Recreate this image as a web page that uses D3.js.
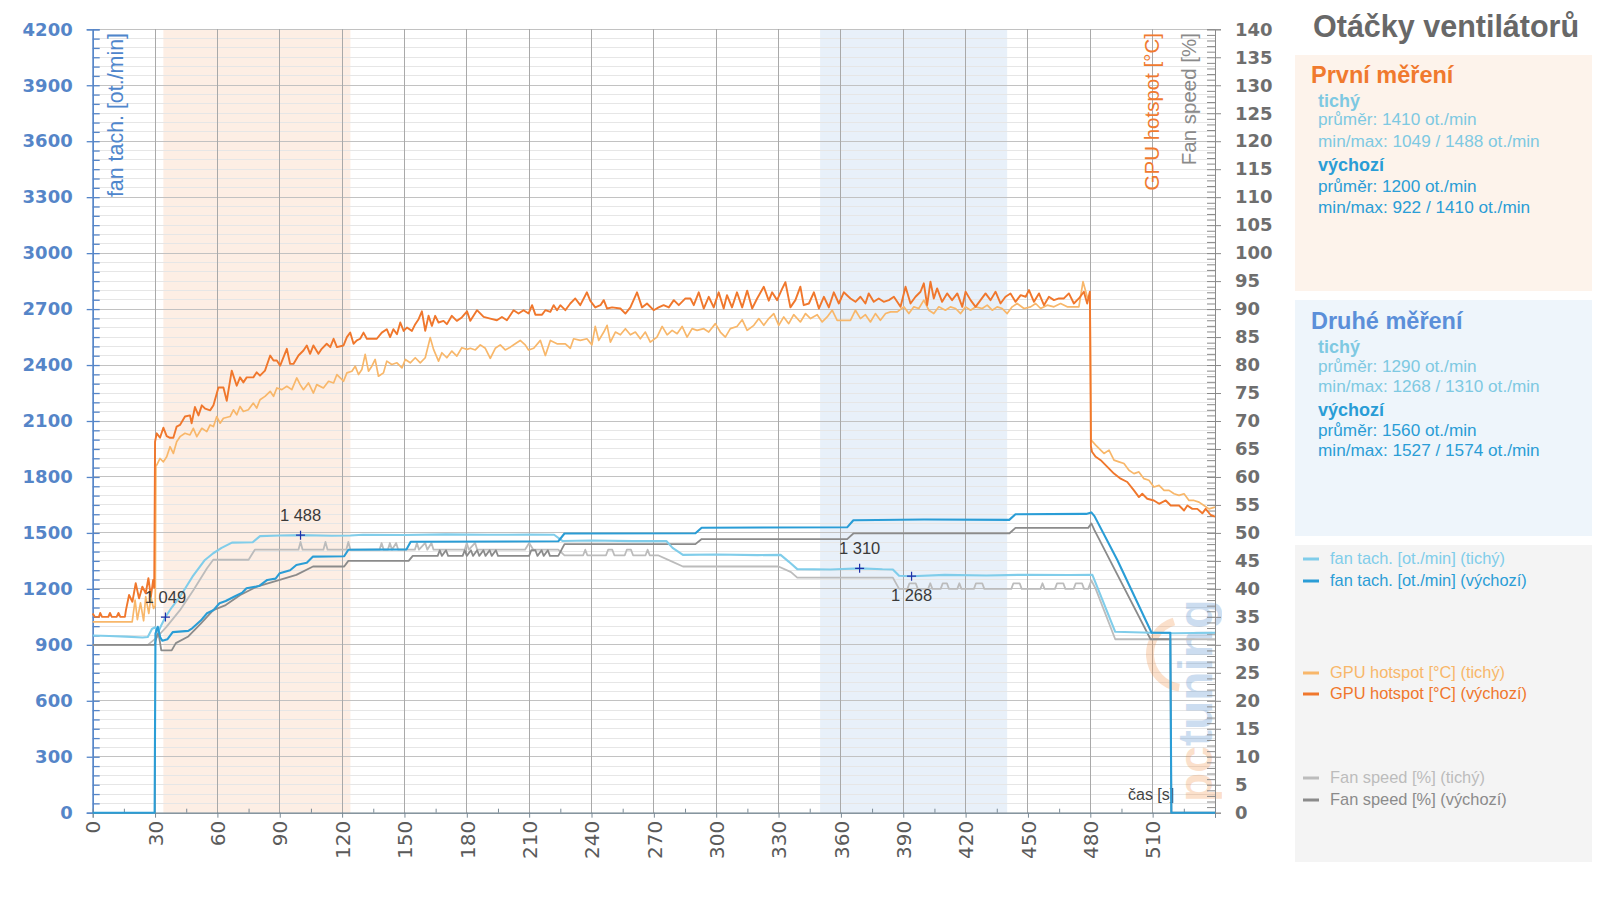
<!DOCTYPE html>
<html>
<head>
<meta charset="utf-8">
<script src="https://cdn.jsdelivr.net/npm/d3@7"></script>
<style>
    body { margin: 0; background: #fff; }
    svg { display: block; }
</style>
</head>
<body>
<svg id="chart" width="1600" height="898"></svg>
<script>
const xTicks = d3.range(0, 511, 30);
const rpmTicks = d3.range(0, 4201, 300);
const pctTicks = d3.range(0, 141, 5);

// [čas s, ot./min]
const tachTichy = [[0,950],[8,947],[16,944],[24,939],[26.5,942],[28.5,985],[30,995],[31.5,968],[33,1005],[35,1049],[38,1100],[42,1158],[48,1265],[54,1355],[58,1391],[62,1420],[67,1448],[77,1450],[80.5,1483],[90,1486],[100,1488],[115,1485],[124,1486],[130,1490],[150,1489],[170,1492],[190,1490],[210,1491],[222,1490],[226,1457],[240,1459],[260,1456],[276,1457],[279,1420],[284,1382],[300,1384],[320,1381],[331,1382],[335,1345],[339,1306],[355,1304],[369,1310],[380,1305],[385,1304],[388,1270],[394,1268],[410,1275],[430,1272],[450,1276],[470,1274],[481,1275],[492,970],[505,966],[520,962],[540,965]];
const tachVychozi = [[0,0],[29.8,0],[30.2,960],[31.3,997],[32.5,940],[33.5,922],[36,930],[38.5,968],[46,975],[48,990],[52,1030],[55,1069],[58,1085],[61,1123],[64,1135],[68,1158],[72,1180],[74,1203],[80,1215],[84,1248],[88,1255],[90,1284],[95,1300],[98,1328],[103,1340],[106,1373],[121,1375],[123,1410],[151,1412],[153,1453],[224,1455],[227,1497],[290,1498],[293,1528],[363,1530],[366,1568],[400,1572],[441,1570],[444,1600],[478,1602],[480.5,1610],[482,1590],[493,1355],[509.5,965],[518.5,965],[519,0],[540,0]];

// [čas s, %]
const speedTichy = [[0,30],[26.5,30],[30.5,31.2],[35.5,33.2],[42,36.2],[48.5,39.8],[55,43.7],[58,45.2],[75,45.2],[78,47],[99,47],[100,48.4],[101,47],[111,47],[112,48.4],[113,47],[122,47],[123,48.4],[124,47],[138,47],[139,48.2],[140,47],[142,47],[143,48.2],[144,47],[146,48.2],[147,47],[155,47],[156,48.2],[157,47],[160,48.2],[161,47],[163,48.2],[164,47],[179,47],[180,48.2],[181,47],[184,48.2],[185,47],[208,47],[210,48.2],[212,47],[224,47],[227,46],[236,46],[237,47],[238,46],[247,46],[248,47],[250,47],[251,46],[256,46],[257,47],[259,47],[260,46],[266,46],[267,47],[268,46],[272,46],[278,45],[284,44],[330,44],[336,43],[339,42],[385,42],[388,40],[392,40],[393,41],[396,41],[397,40],[402,40],[403,41],[404,40],[408,40],[409,41],[411,41],[412,40],[416,40],[417,41],[418,40],[424,40],[425,41],[428,41],[429,40],[442,40],[443,41],[446,41],[447,40],[456,40],[457,41],[458,40],[463,40],[464,41],[467,41],[468,40],[472,40],[473,41],[476,41],[477,40],[479,40],[480.5,41.5],[482.6,40],[492,31],[540,31]];
const speedVychozi = [[0,30],[29.8,30],[31.5,32.5],[33,29],[38,29],[40,30.3],[46,31.5],[52,33.8],[58,36.2],[64,37.1],[71,38.9],[79,40.4],[90,41.6],[98,42.5],[106,44],[121,44],[123,45],[152,45],[154,45.9],[166,45.9],[167,46.9],[168,45.9],[170,46.9],[171,45.9],[178,45.9],[179,46.9],[180,45.9],[182,46.9],[183,45.9],[185,46.9],[186,45.9],[188,46.9],[189,45.9],[191,46.9],[192,45.9],[194,46.9],[195,45.9],[210,45.9],[211,46.9],[213,46.9],[214,45.9],[216,46.9],[217,45.9],[219,46.9],[220,45.9],[224,45.9],[227,48],[290,48],[293,48.9],[363,48.9],[366,49.9],[441,49.9],[444,50.9],[479,50.9],[480.5,51.7],[482,50.5],[509,31],[518.5,31],[519,0],[540,0]];

// [čas s, °C]
const hotTichy = [[0,34.1],[19,34.1],[20.4,38.0],[21.5,34.5],[23,37.5],[24.5,34.3],[25.5,38.6],[27,35.6],[28,38.5],[29.3,36.5],[30.1,37.0],[30.4,62.1],[30.8,62.1],[32.4,63.3],[34,62.7],[35.6,63.6],[37.2,65.4],[38.8,64.2],[40.4,66.3],[42,67.2],[44.4,67.8],[46.8,67.5],[48.4,68.7],[50.1,67.2],[52.5,68.7],[54.9,68.1],[56.5,69.3],[58.1,69.0],[59.7,70.8],[61.3,69.6],[62.9,70.5],[66.1,70.8],[67.7,72.0],[69.3,71.1],[70.9,72.6],[72.5,71.7],[74.9,72.0],[77.3,73.2],[78.9,72.3],[80.5,73.8],[82.9,74.4],[85.4,75.3],[87,74.4],[88.6,75.9],[91,75.6],[93.4,76.2],[95.8,75.6],[98.2,77.7],[99.8,76.5],[101.4,75.6],[103.8,76.8],[106.2,75.0],[107.8,76.5],[111,75.9],[113.5,77.1],[115.9,76.8],[117.5,78.3],[119.1,77.7],[120.7,77.1],[122.3,78.6],[124.7,78.9],[126.3,79.8],[127.9,78.3],[129.5,79.2],[131.1,81.9],[132.7,78.9],[134.3,79.8],[135.9,81.0],[137.5,78.0],[139.9,78.6],[141.5,80.7],[143.9,80.1],[146.4,80.4],[148.8,79.5],[150.4,81.0],[152.8,80.4],[155.2,81.3],[157.6,80.4],[160,81.3],[162.4,84.9],[164,82.8],[166.4,80.7],[168,82.2],[170.4,81.3],[172.8,82.5],[175.2,81.6],[177.6,83.1],[180.1,82.8],[181.7,83.0],[184.1,82.7],[186.5,83.6],[188.9,83.0],[191.3,81.2],[193.7,83.0],[196.1,83.6],[198.5,82.7],[200.9,83.2],[203.3,83.8],[205.7,84.4],[208.1,83.6],[209.7,82.7],[212.2,83.0],[215.4,84.4],[217.8,81.7],[220.2,84.4],[223.4,83.8],[227.4,83.8],[229.8,83.0],[231.4,84.7],[234.6,84.4],[237.8,84.7],[240.2,83.6],[241.8,86.9],[243.5,84.4],[245.9,85.9],[247.5,87.1],[249.1,84.1],[251.5,85.9],[253.9,85.4],[256.3,86.5],[258.7,85.4],[261.1,85.9],[263.5,84.7],[265.9,85.9],[268.3,84.1],[271.5,85.0],[274,86.9],[276.4,85.4],[278.8,86.2],[281.2,85.6],[283.6,86.9],[286,85.0],[288.4,86.5],[290.8,86.2],[294,86.5],[296.4,85.9],[299.6,87.4],[302,85.9],[304.4,85.0],[306.8,86.5],[310,86.9],[312.5,88.1],[314.9,86.2],[318.1,87.1],[320.5,88.3],[322.9,87.1],[325.3,88.3],[327.7,89.2],[330.1,87.1],[332.5,88.6],[334.9,87.4],[337.3,89.0],[340.5,87.7],[343,89.2],[345.4,88.3],[348.6,89.0],[351,87.7],[353.4,88.6],[355.8,89.8],[358.2,88.0],[361.4,88.0],[364.6,88.0],[367,89.8],[369.4,88.3],[371.8,89.0],[374.2,87.7],[376.6,89.2],[379,88.0],[381.5,89.2],[383.9,89.5],[387.1,89.5],[390.3,90.4],[392.7,89.2],[395.1,90.4],[397.5,90.1],[399.9,91.6],[402.3,89.8],[404.7,89.2],[407.1,90.4],[410.3,89.8],[412.7,90.4],[415.2,90.1],[417.6,89.2],[420,90.4],[422.4,89.8],[424.8,90.4],[428,90.1],[430.4,90.7],[432.8,89.8],[435.2,90.4],[437.6,90.1],[440,89.2],[442.4,90.4],[444.8,91.0],[448.1,90.1],[451.3,90.4],[453.7,91.0],[456.1,90.1],[459.3,90.7],[462.5,90.4],[465.7,91.0],[468.9,90.4],[472.1,90.4],[474.5,90.4],[476.5,94.9],[478.5,92.2],[479.9,91.5],[480.4,66.6],[482.6,65.7],[485,64.8],[486.6,64.2],[489,64.8],[491.4,63.0],[493.8,62.7],[496.2,62.4],[498.6,61.2],[501,60.6],[503.4,60.9],[505.8,59.7],[508.2,59.4],[510.6,58.2],[513.1,58.5],[515.5,57.6],[517.9,57.6],[520.3,57.0],[522.7,56.7],[525.1,57.0],[527.5,55.8],[529.9,55.8],[532.3,55.5],[534.7,54.9],[537.1,54.3],[540,54.6]];
const hotVychozi = [[0,35.6],[1,35.0],[3,35.0],[3.6,35.7],[4.5,35.0],[7.5,35.0],[8.3,35.7],[9.2,35.0],[11.5,35.0],[12.4,35.7],[13.3,35.0],[15.5,35.0],[16,36.2],[17.5,38.9],[19.1,37.7],[20.7,41.0],[22.3,38.3],[23.9,40.4],[25.5,39.2],[26.8,41.9],[28,38.6],[29.1,41.6],[29.6,40.2],[30,66.3],[30.8,67.8],[32.4,67.0],[34,68.8],[35.6,67.3],[37.2,67.0],[38.8,67.0],[40.4,69.0],[42,69.3],[44.4,70.8],[46.8,71.0],[47.6,69.6],[49.2,72.5],[50.9,71.0],[52.5,72.8],[54.1,72.2],[56.5,71.9],[58.1,72.8],[60.5,76.0],[62.9,76.0],[64.5,73.6],[66.9,79.0],[69.3,76.3],[70.9,77.8],[72.5,76.9],[74.1,77.8],[77.3,77.8],[78.9,78.7],[80.5,78.1],[82.9,79.0],[85.4,81.7],[87,80.8],[88.6,80.8],[90.2,79.9],[93.4,82.9],[95,80.2],[96.6,80.2],[99,81.7],[101.4,82.6],[103,83.5],[104.6,82.0],[106.2,83.5],[108.6,82.0],[110.2,82.9],[112.6,83.8],[114.3,83.2],[115.9,84.7],[117.5,83.2],[120.7,83.5],[122.3,85.0],[123.9,85.8],[125.5,83.8],[127.1,84.4],[128.7,84.7],[130.3,85.8],[131.9,84.7],[136.7,84.7],[139.1,85.8],[141.5,86.4],[143.1,85.0],[144.7,86.4],[146.4,85.5],[148,87.6],[149.6,86.1],[151.2,86.7],[153.6,86.1],[155.2,87.3],[156.8,88.2],[158.4,89.6],[160,86.1],[161.6,88.8],[163.2,87.0],[164.8,88.8],[166.4,87.6],[168.8,87.9],[170.4,87.3],[172.8,88.8],[175.2,87.9],[177.6,88.5],[180.1,89.6],[181.7,87.9],[184.9,89.8],[188.1,88.6],[191.3,88.3],[194.5,88.0],[196.9,88.6],[199.3,88.0],[202.5,89.8],[204.9,89.2],[207.3,89.8],[209.7,89.2],[211.4,90.7],[213,89.0],[216.2,89.0],[217.8,89.8],[220.2,89.5],[221.8,90.7],[223.4,89.8],[225,90.7],[227.4,89.8],[229.8,91.0],[232.2,91.9],[234.6,90.7],[237.8,93.0],[239.4,91.5],[241.8,90.3],[244.3,90.7],[245.9,91.6],[247.5,90.1],[249.9,90.3],[253.9,90.1],[256.3,89.2],[258.7,90.3],[261.9,93.0],[264.3,90.3],[266.7,91.0],[269.9,89.8],[272.3,90.3],[274.7,90.7],[277.2,90.3],[279.6,91.6],[282,90.7],[285.2,91.9],[287.6,91.9],[289.2,90.7],[291.6,93.0],[294,90.1],[296.4,92.2],[298.8,90.3],[301.2,93.0],[303.6,90.1],[305.2,92.5],[307.6,90.3],[310,93.0],[312.5,90.3],[314.9,93.3],[317.3,90.1],[319.7,91.9],[322.9,94.0],[325.3,91.5],[326.9,93.0],[329.3,91.6],[331.7,93.6],[333.3,94.8],[335.7,90.3],[338.1,91.6],[340.5,94.0],[342.1,90.7],[344.6,91.0],[347,93.0],[349.4,90.1],[351.8,92.2],[354.2,90.3],[356.6,93.0],[359,91.0],[361.4,93.0],[364.6,91.9],[367,91.3],[369.4,92.2],[371.8,91.0],[373.4,92.8],[375.8,91.3],[378.2,91.9],[380.6,91.3],[383.1,91.6],[385.5,92.2],[388.7,90.4],[391.1,94.0],[393.5,91.0],[395.9,92.2],[398.3,93.1],[399.9,94.6],[401.5,90.7],[403.1,94.9],[404.7,91.9],[406.3,93.7],[408.7,91.3],[411.1,92.8],[413.5,91.6],[416,92.8],[418.4,90.4],[420,93.1],[422.4,91.6],[424.8,90.4],[427.2,91.6],[429.6,92.8],[432,91.6],[434.4,93.1],[436.8,91.0],[439.2,92.2],[441.6,92.8],[444,91.3],[446.5,92.5],[448.9,92.2],[450.5,93.4],[452.9,91.3],[455.3,92.8],[457.7,90.7],[460.1,92.2],[462.5,91.6],[464.9,91.9],[467.3,91.9],[469.7,92.8],[472.1,91.0],[474.5,91.9],[476.9,93.1],[478.5,91.0],[479.8,93.1],[480.3,65.5],[480.8,64.5],[482.6,63.6],[485,63.0],[488.2,61.8],[491.4,60.6],[494.6,59.7],[497.8,59.1],[501,57.6],[503.4,56.4],[505,57.0],[507.4,56.1],[510.6,55.8],[513.1,55.2],[516.3,55.8],[518.7,54.9],[522.7,54.9],[525.1,54.0],[526.7,54.9],[529.1,54.3],[531.5,54.3],[533.9,53.5],[535.5,54.3],[537.9,53.2],[540,52.9]];

const bands = [[34, 124], [350, 440]];
const marks = [[35, 1049, "1 049"], [100, 1488, "1 488"], [369, 1310, "1 310"], [394, 1268, "1 268"]];

const title = "Otáčky ventilátorů";
const boxTitles = ["První měření", "Druhé měření"];
const boxRows = [
    ["tichý", "průměr: 1410 ot./min", "min/max: 1049 / 1488 ot./min", "výchozí", "průměr: 1200 ot./min", "min/max: 922 / 1410 ot./min"],
    ["tichý", "průměr: 1290 ot./min", "min/max: 1268 / 1310 ot./min", "výchozí", "průměr: 1560 ot./min", "min/max: 1527 / 1574 ot./min"]
];
const legendLabels = [
    "fan tach. [ot./min] (tichý)", "fan tach. [ot./min] (výchozí)",
    "GPU hotspot [°C] (tichý)", "GPU hotspot [°C] (výchozí)",
    "Fan speed [%] (tichý)", "Fan speed [%] (výchozí)"
];

const C = {
    tachT: "#80cdea", tachV: "#2a9dd6",
    hotT: "#f8b76a", hotV: "#f0772c",
    spdT: "#bcbcbc", spdV: "#8b8b8b",
    leftAxis: "#5585c8", rightAxis: "#6e6e6e"
};
const SANS = "'Liberation Sans', Arial, sans-serif";
const WIDE = "'DejaVu Sans', Verdana, sans-serif";

const svg = d3.select("#chart");
svg.append("rect").attr("width", 1600).attr("height", 898).attr("fill", "#fff");

const x = d3.scaleLinear().domain([0, 540]).range([92.7, 1215]);
const yL = d3.scaleLinear().domain([0, 4200]).range([812.7, 29.3]);
const yR = d3.scaleLinear().domain([0, 140]).range([812.7, 29.3]);

// pásma měření
svg.append("g").selectAll("rect").data(bands).join("rect")
    .attr("x", d => x(d[0]))
    .attr("width", d => x(d[1]) - x(d[0]))
    .attr("y", yL(4200))
    .attr("height", yL(0) - yL(4200))
    .attr("fill", (d, i) => i ? "#e8f0f9" : "#fdeee4");

// mřížka
const grid = svg.append("g").attr("shape-rendering", "crispEdges");
grid.selectAll(".minor").data(d3.range(0, 4201, 50).filter(v => v % 300)).join("line")
    .attr("x1", x(0)).attr("x2", x(540))
    .attr("y1", d => yL(d)).attr("y2", d => yL(d))
    .attr("stroke", "#e6e6e6");
grid.selectAll(".major").data(rpmTicks.slice(1)).join("line")
    .attr("x1", x(0)).attr("x2", x(540))
    .attr("y1", d => yL(d)).attr("y2", d => yL(d))
    .attr("stroke", "#c2c2c2");
grid.selectAll(".vert").data(d3.range(30, 540, 30)).join("line")
    .attr("x1", d => x(d)).attr("x2", d => x(d))
    .attr("y1", yL(0)).attr("y2", yL(4200))
    .attr("stroke", "#a9a9a9");

// vodoznak
const wm = svg.append("g").attr("opacity", 0.26);
wm.append("path")
    .attr("d", d3.arc()({ innerRadius: 30, outerRadius: 38, startAngle: -3.0, endAngle: -0.3 }))
    .attr("transform", "translate(1184,654)")
    .attr("fill", "#f08a3c");
const wmText = wm.append("text")
    .attr("transform", "translate(1212,802) rotate(-90)")
    .attr("font-family", SANS).attr("font-weight", "bold").attr("font-size", 48);
wmText.append("tspan").attr("fill", "#f08a3c").text("pc");
wmText.append("tspan").attr("fill", "#3f7fc6").text("tuning");

// osy
const axisL = svg.append("g").attr("class", "ax-left").attr("transform", `translate(${x(0)},0)`)
    .call(d3.axisLeft(yL).tickValues(rpmTicks).tickSize(6).tickPadding(14).tickFormat(d3.format("d")));
svg.append("g").attr("class", "ax-left").attr("transform", `translate(${x(0)},0)`)
    .call(d3.axisRight(yL).tickValues(d3.range(0, 4201, 50)).tickSize(7).tickFormat(""));
const axisR = svg.append("g").attr("class", "ax-right").attr("transform", `translate(${x(540)},0)`)
    .call(d3.axisRight(yR).tickValues(pctTicks).tickSize(6).tickPadding(14));
svg.append("g").attr("class", "ax-right").attr("transform", `translate(${x(540)},0)`)
    .call(d3.axisLeft(yR).tickValues(d3.range(0, 141, 1)).tickSize(8).tickFormat(""));
const axisB = svg.append("g").attr("class", "ax-bottom").attr("transform", `translate(0,${yL(0)})`)
    .call(d3.axisBottom(x).tickValues(d3.range(0, 541, 30)).tickSize(5)
        .tickFormat(d => xTicks.includes(d) ? d : ""));
svg.append("g").attr("class", "ax-bottom").attr("transform", `translate(0,${yL(0)})`)
    .call(d3.axisTop(x).tickValues(d3.range(15, 540, 30)).tickSize(4).tickFormat(""));

svg.selectAll(".ax-left").selectAll("path, line").attr("stroke", C.leftAxis).attr("stroke-width", 1.3);
svg.selectAll(".ax-right").selectAll("path, line").attr("stroke", "#8a8a8a");
svg.selectAll(".ax-bottom").selectAll("path, line").attr("stroke", "#7a8a96");

axisL.selectAll("text")
    .attr("font-family", WIDE).attr("font-weight", "bold").attr("font-size", 18)
    .attr("fill", C.leftAxis);
axisR.selectAll("text")
    .attr("font-family", WIDE).attr("font-weight", "bold").attr("font-size", 18)
    .attr("fill", C.rightAxis);
axisB.selectAll("text")
    .attr("font-family", WIDE).attr("font-size", 20).attr("fill", "#5a5a5a")
    .attr("transform", "rotate(-90)")
    .attr("text-anchor", "end")
    .attr("x", -8).attr("y", 0).attr("dy", "0.36em");

// názvy os
const axisTitle = (tx, ty, color, size, text) => svg.append("text")
    .attr("transform", `translate(${tx},${ty}) rotate(-90)`)
    .attr("text-anchor", "end")
    .attr("font-family", SANS).attr("font-size", size)
    .attr("fill", color)
    .text(text);
axisTitle(123, 33, "#4f86cc", 21.4, "fan tach. [ot./min]");
axisTitle(1159, 33, "#f07a30", 20.5, "GPU hotspot [°C]");
axisTitle(1196, 33, "#8a8a8a", 20.5, "Fan speed [%]");

svg.append("text")
    .attr("x", 1128).attr("y", 800)
    .attr("font-family", SANS).attr("font-size", 16).attr("fill", "#444")
    .text("čas [s]");

// křivky
const lineL = d3.line().x(d => x(d[0])).y(d => yL(d[1]));
const lineR = d3.line().x(d => x(d[0])).y(d => yR(d[1]));
const series = [
    [speedTichy, lineR, C.spdT, 1.8],
    [speedVychozi, lineR, C.spdV, 1.8],
    [tachTichy, lineL, C.tachT, 2.1],
    [tachVychozi, lineL, C.tachV, 2.1],
    [hotTichy, lineR, C.hotT, 1.7],
    [hotVychozi, lineR, C.hotV, 1.9]
];
svg.append("g").selectAll("path").data(series).join("path")
    .attr("d", d => d[1](d[0]))
    .attr("fill", "none")
    .attr("stroke", d => d[2])
    .attr("stroke-width", d => d[3])
    .attr("stroke-linejoin", "round");

// značky min/max
const mk = svg.append("g").selectAll("g").data(marks).join("g")
    .attr("transform", d => `translate(${x(d[0])},${yL(d[1])})`);
mk.append("path").attr("d", "M-4.5,0H4.5M0,-4.5V4.5").attr("stroke", "#2030a8").attr("stroke-width", 1.2);
mk.append("text")
    .attr("text-anchor", "middle")
    .attr("y", (d, i) => i === 3 ? 25 : -14)
    .attr("font-family", SANS).attr("font-size", 16.5).attr("fill", "#3a3a3a")
    .text(d => d[2]);

// panel vpravo
svg.append("text")
    .attr("x", 1313).attr("y", 37)
    .attr("font-family", SANS).attr("font-weight", "bold").attr("font-size", 30.5)
    .attr("fill", "#686868")
    .text(title);

const boxTops = [55, 300];
const boxHeights = [236, 236];
const boxFills = ["#fdf3eb", "#eef5fb"];
const boxTitleColors = ["#f07a2e", "#5b8fd9"];
const rowDy = [[82.7, 107, 125, 147, 171, 192, 213], [329, 353, 372, 392, 416, 436, 456]];
const rowColors = ["#7ec9e2", "#7ec9e2", "#7ec9e2", "#2a9dd6", "#2a9dd6", "#2a9dd6"];

boxTitles.forEach((t, b) => {
    svg.append("rect")
        .attr("x", 1295).attr("y", boxTops[b])
        .attr("width", 297).attr("height", boxHeights[b])
        .attr("fill", boxFills[b]);
    svg.append("text")
        .attr("x", 1311).attr("y", rowDy[b][0])
        .attr("font-family", SANS).attr("font-weight", "bold").attr("font-size", 23.5)
        .attr("fill", boxTitleColors[b])
        .text(t);
    boxRows[b].forEach((r, i) => {
        const head = i % 3 === 0;
        svg.append("text")
            .attr("x", 1318).attr("y", rowDy[b][i + 1])
            .attr("font-family", SANS)
            .attr("font-weight", head ? "bold" : "normal")
            .attr("font-size", head ? 18 : 17.2)
            .attr("fill", rowColors[i])
            .text(r);
    });
});

svg.append("rect")
    .attr("x", 1295).attr("y", 545)
    .attr("width", 297).attr("height", 317)
    .attr("fill", "#f4f4f4");
const legendY = [564, 586, 678, 699, 783, 805];
const legendColors = [C.tachT, C.tachV, C.hotT, C.hotV, C.spdT, C.spdV];
const lg = svg.append("g").selectAll("g").data(legendLabels).join("g")
    .attr("transform", (d, i) => `translate(0,${legendY[i]})`);
lg.append("line")
    .attr("x1", 1303).attr("x2", 1319).attr("y1", -5).attr("y2", -5)
    .attr("stroke", (d, i) => legendColors[i]).attr("stroke-width", 3);
lg.append("text")
    .attr("x", 1330)
    .attr("font-family", SANS).attr("font-size", 16.4)
    .attr("fill", (d, i) => legendColors[i])
    .text(d => d);
</script>
</body>
</html>
